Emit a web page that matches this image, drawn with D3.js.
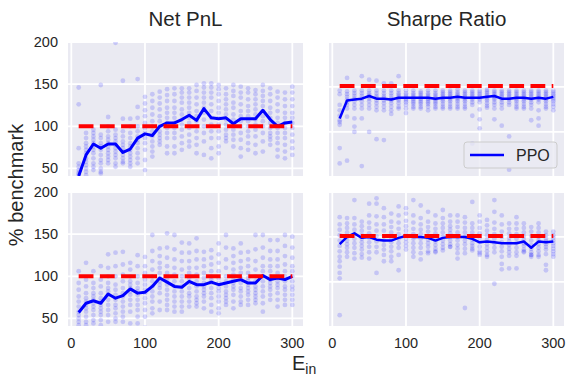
<!DOCTYPE html>
<html>
<head>
<meta charset="utf-8">
<script src="https://cdn.jsdelivr.net/npm/d3@7"></script>
<style>
  body { margin: 0; background: #fff; }
  svg { font-family: "Liberation Sans", Arial, sans-serif; }
</style>
</head>
<body>
<div id="chart"></div>
<script>
// training epochs (x values)
const epochs = [10, 20, 30, 40, 50, 60, 70, 80, 90, 100, 110, 120, 130, 140, 150,
  160, 170, 180, 190, 200, 210, 220, 230, 240, 250, 260, 270, 280, 290, 300];

// benchmark levels (% benchmark)
const netBench = 100;
const sharpeBench = 151;

// mean curves (PPO)
const netTopMean = [41, 66, 79, 74, 79, 79, 69, 73, 86, 91, 89, 100, 104, 104, 108,
  113, 107, 121, 110, 109, 110, 103, 109, 109, 109, 119, 108, 100, 104, 105];
const netBotMean = [57, 68, 71, 68, 79, 74, 77, 85, 80, 81, 88, 98, 93, 88, 87,
  94, 90, 90, 93, 90, 92, 94, 96, 92, 92, 101, 96, 98, 96, 100];
const sharpeTopMean = [115, 135, 136, 137, 140, 137, 137, 136, 138, 138, 138, 138, 138, 137, 138,
  138, 139, 138, 138, 138, 139, 140, 137, 137, 138, 138, 137, 138, 137, 139];
const sharpeBotMean = [142, 150, 154, 149, 150, 147, 146, 146, 149, 151, 150, 150, 149, 146, 149,
  150, 150, 150, 148, 144, 145, 144, 143, 143, 143, 145, 138, 145, 144, 145];

// individual runs, one list per epoch
const netTopRuns = [
  [146, 126, 74, 56, 52, 48, 45, 43, 35, 25, 15, 10],
  [92, 86, 80, 76, 72, 68, 62, 58, 54, 50, 46, 42],
  [96, 92, 88, 84, 80, 76, 72, 68, 62, 56, 52, 48],
  [149, 90, 86, 80, 76, 72, 66, 60, 56, 50, 46, 44],
  [111, 100, 94, 88, 84, 80, 76, 72, 68, 64, 60, 56],
  [199, 96, 90, 86, 82, 78, 74, 70, 66, 62, 56, 52],
  [154, 109, 94, 88, 82, 78, 74, 70, 66, 62, 58, 56],
  [109, 100, 92, 86, 80, 76, 72, 68, 64, 60, 56, 52],
  [156, 123, 110, 100, 94, 88, 84, 80, 74, 68, 62, 56],
  [135, 127, 119, 112, 104, 98, 92, 86, 80, 72, 60, 48],
  [138, 130, 122, 114, 106, 100, 94, 88, 82, 76, 70, 64],
  [141, 134, 127, 120, 112, 106, 100, 94, 90, 86, 82, 78],
  [144, 137, 130, 122, 116, 110, 104, 98, 92, 86, 76, 68],
  [145, 138, 130, 122, 116, 110, 104, 98, 92, 86, 76, 68],
  [145, 140, 134, 128, 120, 114, 108, 102, 96, 88, 80, 72],
  [145, 140, 134, 128, 122, 116, 110, 104, 98, 90, 82, 76],
  [149, 142, 134, 126, 118, 112, 106, 100, 94, 86, 78, 68],
  [151, 146, 140, 134, 128, 122, 116, 108, 100, 92, 82, 66],
  [151, 146, 140, 134, 126, 118, 110, 102, 94, 86, 74, 62],
  [149, 144, 138, 130, 122, 116, 110, 102, 94, 86, 76, 68],
  [145, 138, 132, 126, 120, 114, 108, 102, 96, 90, 86, 82],
  [149, 142, 136, 128, 122, 114, 108, 102, 96, 90, 84, 76],
  [147, 140, 134, 126, 118, 112, 106, 100, 92, 84, 74, 64],
  [145, 140, 132, 124, 118, 112, 106, 100, 94, 88, 80, 72],
  [143, 138, 132, 126, 120, 114, 108, 102, 96, 88, 78, 68],
  [149, 142, 136, 130, 124, 118, 112, 106, 100, 92, 82, 70],
  [145, 138, 130, 122, 116, 110, 104, 98, 92, 88, 84, 78],
  [141, 134, 126, 118, 110, 104, 98, 92, 86, 80, 72, 64],
  [140, 132, 124, 116, 110, 104, 98, 92, 86, 78, 70, 62],
  [147, 140, 132, 124, 116, 110, 104, 98, 90, 82, 74, 66]
];
const netBotRuns = [
  [106, 92, 84, 76, 70, 64, 58, 54, 50, 46, 42, 38],
  [116, 96, 88, 80, 74, 70, 66, 62, 58, 52, 46, 42],
  [106, 92, 86, 80, 76, 72, 68, 64, 60, 54, 48, 44],
  [112, 96, 88, 80, 74, 70, 66, 62, 58, 54, 48, 42],
  [126, 110, 100, 92, 86, 82, 78, 72, 66, 60, 54, 46],
  [128, 112, 100, 90, 84, 78, 72, 66, 62, 56, 50, 46],
  [129, 114, 102, 94, 86, 80, 76, 70, 64, 58, 52, 46],
  [116, 108, 100, 94, 90, 86, 82, 78, 72, 66, 58, 44],
  [125, 112, 100, 92, 86, 82, 78, 72, 66, 60, 52, 44],
  [123, 112, 104, 96, 90, 84, 80, 74, 68, 60, 52, 39],
  [149, 130, 118, 108, 100, 94, 88, 82, 76, 70, 62, 56],
  [133, 124, 116, 110, 104, 98, 94, 90, 86, 80, 70, 60],
  [151, 134, 122, 112, 104, 96, 90, 84, 78, 72, 66, 60],
  [149, 132, 120, 110, 102, 94, 88, 82, 76, 70, 64, 58],
  [140, 128, 118, 108, 100, 94, 88, 82, 76, 70, 64, 58],
  [139, 128, 118, 110, 104, 98, 92, 86, 80, 76, 70, 64],
  [145, 130, 120, 110, 102, 94, 88, 82, 76, 72, 68, 64],
  [129, 120, 112, 104, 98, 92, 88, 84, 80, 76, 70, 62],
  [131, 122, 114, 106, 100, 96, 92, 86, 80, 74, 66, 58],
  [139, 126, 116, 106, 98, 92, 86, 82, 76, 70, 62, 56],
  [149, 134, 120, 110, 100, 94, 88, 82, 78, 74, 70, 66],
  [133, 124, 116, 108, 102, 96, 92, 88, 84, 78, 70, 62],
  [139, 128, 118, 110, 104, 98, 92, 86, 82, 76, 70, 66],
  [129, 120, 112, 104, 98, 94, 90, 86, 82, 78, 72, 66],
  [149, 132, 118, 108, 100, 94, 88, 84, 80, 76, 72, 68],
  [149, 134, 122, 112, 106, 100, 94, 88, 82, 76, 68, 58],
  [143, 130, 120, 112, 106, 100, 96, 92, 88, 84, 78, 72],
  [143, 130, 120, 112, 104, 98, 94, 90, 86, 80, 72, 64],
  [149, 136, 124, 114, 106, 100, 94, 88, 84, 78, 72, 66],
  [147, 134, 122, 112, 106, 100, 94, 88, 84, 78, 72, 66]
];
const sharpeTopRuns = [
  [146, 142, 130, 124, 118, 113, 111, 108, 82, 65],
  [160, 145, 142, 139, 136, 133, 130, 126, 117, 68],
  [146, 143, 140, 137, 134, 130, 126, 115, 106, 100],
  [162, 146, 143, 140, 137, 134, 130, 126, 115, 62],
  [158, 146, 143, 141, 139, 137, 134, 130, 126, 100],
  [157, 146, 143, 140, 138, 135, 132, 128, 124, 92],
  [154, 146, 143, 140, 138, 135, 132, 128, 124, 91],
  [154, 146, 143, 140, 137, 135, 132, 128, 124, 120],
  [162, 146, 143, 141, 139, 137, 135, 132, 128, 126],
  [146, 143, 141, 139, 137, 135, 133, 130, 126, 121],
  [146, 143, 141, 139, 137, 135, 133, 131, 128, 126],
  [145, 143, 141, 139, 137, 135, 133, 131, 128, 126],
  [146, 143, 141, 139, 137, 135, 133, 131, 128, 124],
  [146, 143, 141, 139, 137, 135, 133, 131, 128, 126],
  [146, 144, 142, 140, 138, 136, 134, 131, 128, 126],
  [146, 144, 142, 140, 138, 136, 134, 131, 128, 126],
  [147, 144, 142, 140, 138, 136, 134, 131, 128, 126],
  [146, 144, 142, 140, 138, 136, 134, 131, 128, 126],
  [146, 144, 142, 140, 138, 136, 133, 130, 118, 87],
  [146, 144, 142, 140, 138, 136, 133, 125, 114, 104],
  [147, 145, 143, 141, 139, 137, 135, 132, 129, 127],
  [146, 144, 142, 140, 138, 136, 133, 130, 126, 114],
  [146, 144, 142, 140, 138, 136, 133, 130, 126, 107],
  [146, 144, 142, 140, 138, 136, 133, 130, 95, 58],
  [146, 144, 142, 140, 138, 136, 134, 131, 128, 126],
  [146, 144, 142, 140, 138, 136, 134, 131, 128, 126],
  [146, 144, 142, 140, 138, 136, 133, 130, 126, 113],
  [146, 144, 142, 140, 138, 136, 133, 124, 115, 107],
  [146, 144, 142, 140, 138, 136, 134, 131, 128, 126],
  [146, 144, 142, 140, 138, 136, 134, 131, 128, 124]
];
const sharpeBotRuns = [
  [172, 164, 158, 152, 146, 140, 134, 128, 123, 117, 110, 104, 63],
  [171, 165, 160, 155, 150, 146, 142, 138, 133, 128],
  [191, 171, 164, 158, 153, 148, 143, 138, 132, 126],
  [167, 162, 157, 152, 148, 144, 140, 136, 131, 127],
  [187, 174, 166, 160, 154, 149, 144, 139, 133, 126],
  [193, 187, 173, 164, 157, 151, 145, 139, 133, 110],
  [182, 172, 164, 157, 151, 146, 141, 136, 130, 123],
  [176, 167, 161, 155, 149, 144, 139, 134, 128, 123],
  [184, 174, 166, 159, 153, 148, 143, 138, 130, 113],
  [182, 176, 168, 162, 157, 152, 148, 144, 140, 136],
  [191, 174, 166, 159, 153, 148, 143, 138, 133, 128],
  [185, 171, 164, 158, 153, 148, 143, 138, 132, 125],
  [178, 167, 161, 156, 151, 147, 143, 139, 134, 132],
  [174, 165, 159, 154, 149, 145, 141, 137, 133, 134],
  [180, 171, 165, 160, 155, 150, 146, 142, 138, 135],
  [174, 167, 162, 158, 154, 150, 146, 142, 139, 139],
  [174, 167, 161, 155, 150, 146, 141, 137, 132, 126],
  [172, 166, 160, 155, 150, 146, 142, 137, 132, 71],
  [189, 165, 160, 155, 151, 147, 143, 140, 137, 135],
  [174, 167, 160, 154, 149, 144, 139, 134, 130, 132],
  [169, 163, 157, 152, 147, 142, 138, 134, 130, 128],
  [191, 178, 166, 159, 153, 148, 143, 138, 133, 98],
  [174, 164, 156, 150, 144, 139, 134, 128, 120, 114],
  [165, 159, 154, 149, 145, 141, 137, 133, 129, 115],
  [172, 165, 159, 153, 148, 143, 138, 133, 129, 115],
  [165, 160, 155, 151, 147, 143, 140, 136, 134, 133],
  [161, 156, 151, 146, 141, 137, 133, 130, 128, 130],
  [165, 160, 155, 150, 146, 142, 138, 134, 130, 128],
  [156, 152, 148, 145, 142, 139, 136, 131, 119, 113],
  [156, 152, 149, 146, 143, 140, 137, 134, 131, 128]
];

const xTicks = [0, 100, 200, 300];
const yTicks = [50, 100, 150, 200];
const colTitles = ["Net PnL", "Sharpe Ratio"];

const W = 568, H = 379;
const colX = [68, 329], rowY = [42, 192];
const pw = 235, ph = 134;

const svg = d3.select("#chart").append("svg")
  .attr("width", W).attr("height", H);

const x = d3.scaleLinear().domain([-4.5, 314.5]);
const yDomains = [[41, 200], [51, 200]];

const panels = [
  {row: 0, col: 0, runs: netTopRuns, mean: netTopMean, bench: netBench},
  {row: 0, col: 1, runs: sharpeTopRuns, mean: sharpeTopMean, bench: sharpeBench, legend: true},
  {row: 1, col: 0, runs: netBotRuns, mean: netBotMean, bench: netBench},
  {row: 1, col: 1, runs: sharpeBotRuns, mean: sharpeBotMean, bench: sharpeBench}
];

panels.forEach((p, i) => {
  const x0 = colX[p.col], y0 = rowY[p.row];
  const xs = x.copy().range([x0, x0 + pw]);
  const ys = d3.scaleLinear().domain(yDomains[p.col]).range([y0 + ph, y0]);

  svg.append("rect")
    .attr("x", x0).attr("y", y0).attr("width", pw).attr("height", ph)
    .attr("fill", "#EAEAF2");

  svg.append("clipPath").attr("id", "clip" + i)
    .append("rect")
    .attr("x", x0).attr("y", y0).attr("width", pw).attr("height", ph);

  const g = svg.append("g").attr("clip-path", "url(#clip" + i + ")");

  // grid
  g.selectAll(".vg").data(xTicks).enter().append("line")
    .attr("x1", d => xs(d)).attr("x2", d => xs(d))
    .attr("y1", y0).attr("y2", y0 + ph)
    .attr("stroke", "#fff").attr("stroke-width", 1.8);
  g.selectAll(".hg").data(yTicks).enter().append("line")
    .attr("x1", x0).attr("x2", x0 + pw)
    .attr("y1", d => ys(d)).attr("y2", d => ys(d))
    .attr("stroke", "#fff").attr("stroke-width", 1.8);

  // runs
  const pts = [];
  p.runs.forEach((vals, j) => vals.forEach(v => pts.push([epochs[j], v])));
  g.selectAll("circle").data(pts).enter().append("circle")
    .attr("cx", d => xs(d[0]))
    .attr("cy", d => ys(d[1]))
    .attr("r", 2.4)
    .attr("fill", "#0000ff")
    .attr("fill-opacity", 0.16);

  // mean
  const line = d3.line()
    .x((d, j) => xs(epochs[j]))
    .y(d => ys(d));
  g.append("path")
    .datum(p.mean)
    .attr("d", line)
    .attr("fill", "none")
    .attr("stroke", "#0000ff")
    .attr("stroke-width", p.col === 0 ? 3 : 2.5)
    .attr("stroke-linejoin", "round");

  // benchmark
  g.append("line")
    .attr("x1", xs(epochs[0])).attr("x2", xs(epochs[epochs.length - 1]))
    .attr("y1", ys(p.bench)).attr("y2", ys(p.bench))
    .attr("stroke", "#ff0000")
    .attr("stroke-width", 4)
    .attr("stroke-dasharray", "14.8,6.4");

  // tick labels
  if (p.col === 0) {
    svg.selectAll(null).data(yTicks).enter().append("text")
      .attr("x", x0 - 10).attr("y", d => ys(d))
      .attr("dy", "0.35em")
      .attr("text-anchor", "end")
      .attr("font-size", 14.5)
      .attr("fill", "#262626")
      .text(d => d);
  }
  if (p.row === 1) {
    svg.selectAll(null).data(xTicks).enter().append("text")
      .attr("x", d => xs(d)).attr("y", y0 + ph + 22)
      .attr("text-anchor", "middle")
      .attr("font-size", 14.5)
      .attr("fill", "#262626")
      .text(d => d);
  }
  if (p.row === 0) {
    svg.append("text")
      .attr("x", x0 + pw / 2).attr("y", 26)
      .attr("text-anchor", "middle")
      .attr("font-size", 20.5)
      .attr("fill", "#262626")
      .text(colTitles[p.col]);
  }

  if (p.legend) {
    const lx = 464, ly = 142;
    svg.append("rect")
      .attr("x", lx).attr("y", ly).attr("width", 93).attr("height", 26)
      .attr("rx", 3)
      .attr("fill", "#EAEAF2").attr("fill-opacity", 0.8)
      .attr("stroke", "#cccccc").attr("stroke-width", 1);
    svg.append("line")
      .attr("x1", lx + 6).attr("x2", lx + 40)
      .attr("y1", ly + 13).attr("y2", ly + 13)
      .attr("stroke", "#0000ff").attr("stroke-width", 2.5);
    svg.append("text")
      .attr("x", lx + 52).attr("y", ly + 19)
      .attr("font-size", 16)
      .attr("fill", "#262626")
      .text("PPO");
  }
});

// axis labels
svg.append("text")
  .attr("transform", "translate(23,185) rotate(-90)")
  .attr("text-anchor", "middle")
  .attr("font-size", 20)
  .attr("fill", "#262626")
  .text("% benchmark");

const xl = svg.append("text")
  .attr("x", 292).attr("y", 370)
  .attr("font-size", 20)
  .attr("fill", "#262626");
xl.append("tspan").text("E");
xl.append("tspan").attr("font-size", 14).attr("dy", 4).text("in");
</script>
</body>
</html>
